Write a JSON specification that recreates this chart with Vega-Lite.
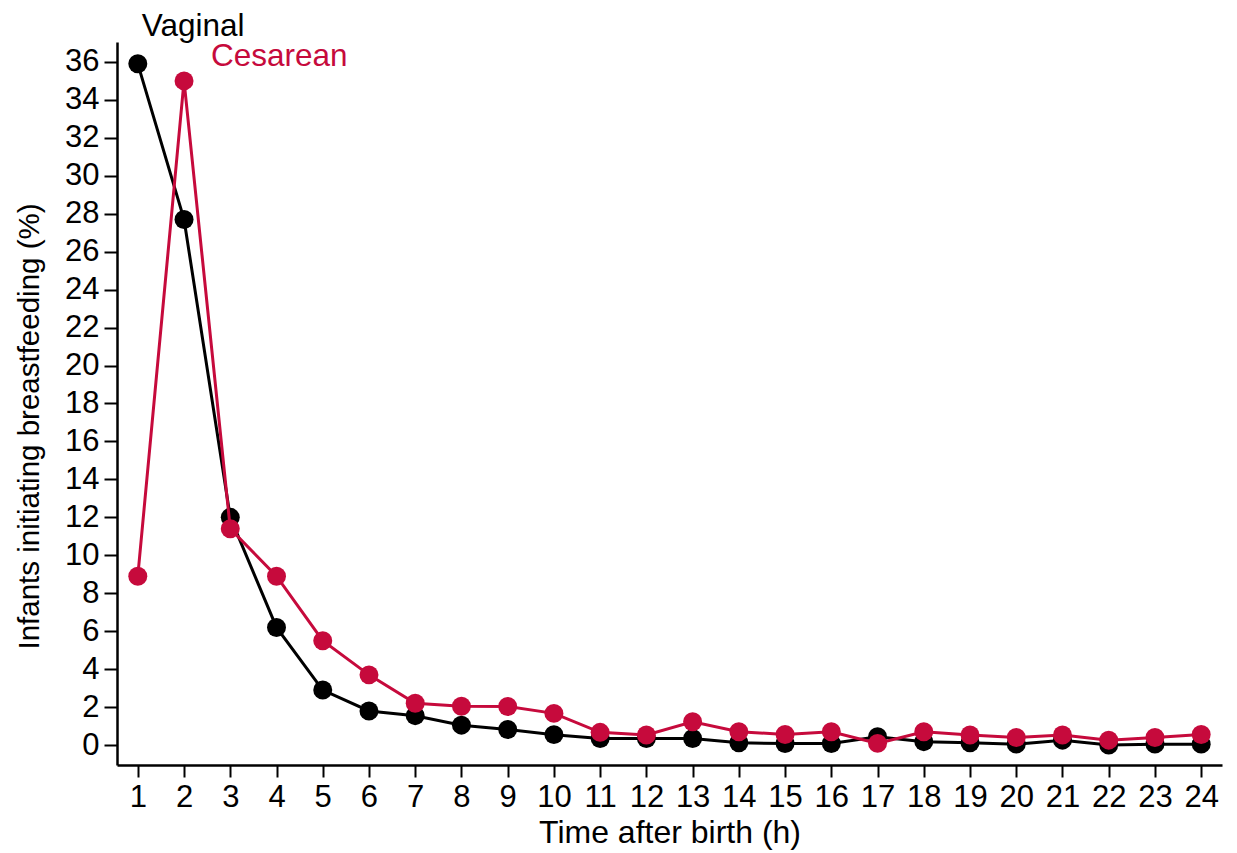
{
  "$schema": "https://vega.github.io/schema/vega-lite/v6.json",
  "width": 1105,
  "height": 723,
  "autosize": "none",
  "padding": {"left": 117, "top": 42, "right": 15, "bottom": 88},
  "background": "white",
  "config": {
    "view": {"stroke": null},
    "font": "Liberation Sans",
    "axis": {
      "grid": false,
      "domainColor": "black",
      "domainWidth": 2.5,
      "tickColor": "black",
      "tickWidth": 2,
      "labelColor": "black",
      "labelFont": "Liberation Sans",
      "labelFontSize": 31,
      "titleFont": "Liberation Sans",
      "titleFontWeight": "normal",
      "titleColor": "black",
      "labelPadding": 5
    }
  },
  "data": {
    "values": [
      {"series": "Vaginal", "hour": 1, "pct": 35.9},
      {"series": "Vaginal", "hour": 2, "pct": 27.7},
      {"series": "Vaginal", "hour": 3, "pct": 12.0},
      {"series": "Vaginal", "hour": 4, "pct": 6.2},
      {"series": "Vaginal", "hour": 5, "pct": 2.9},
      {"series": "Vaginal", "hour": 6, "pct": 1.8},
      {"series": "Vaginal", "hour": 7, "pct": 1.55},
      {"series": "Vaginal", "hour": 8, "pct": 1.05},
      {"series": "Vaginal", "hour": 9, "pct": 0.82},
      {"series": "Vaginal", "hour": 10, "pct": 0.55},
      {"series": "Vaginal", "hour": 11, "pct": 0.35},
      {"series": "Vaginal", "hour": 12, "pct": 0.35},
      {"series": "Vaginal", "hour": 13, "pct": 0.35},
      {"series": "Vaginal", "hour": 14, "pct": 0.12},
      {"series": "Vaginal", "hour": 15, "pct": 0.08},
      {"series": "Vaginal", "hour": 16, "pct": 0.08},
      {"series": "Vaginal", "hour": 17, "pct": 0.44},
      {"series": "Vaginal", "hour": 18, "pct": 0.18},
      {"series": "Vaginal", "hour": 19, "pct": 0.12},
      {"series": "Vaginal", "hour": 20, "pct": 0.05},
      {"series": "Vaginal", "hour": 21, "pct": 0.26},
      {"series": "Vaginal", "hour": 22, "pct": 0.0},
      {"series": "Vaginal", "hour": 23, "pct": 0.05},
      {"series": "Vaginal", "hour": 24, "pct": 0.05},
      {"series": "Cesarean", "hour": 1, "pct": 8.9},
      {"series": "Cesarean", "hour": 2, "pct": 35.0},
      {"series": "Cesarean", "hour": 3, "pct": 11.4},
      {"series": "Cesarean", "hour": 4, "pct": 8.9},
      {"series": "Cesarean", "hour": 5, "pct": 5.5},
      {"series": "Cesarean", "hour": 6, "pct": 3.7},
      {"series": "Cesarean", "hour": 7, "pct": 2.2},
      {"series": "Cesarean", "hour": 8, "pct": 2.05},
      {"series": "Cesarean", "hour": 9, "pct": 2.03},
      {"series": "Cesarean", "hour": 10, "pct": 1.67},
      {"series": "Cesarean", "hour": 11, "pct": 0.67},
      {"series": "Cesarean", "hour": 12, "pct": 0.53},
      {"series": "Cesarean", "hour": 13, "pct": 1.23},
      {"series": "Cesarean", "hour": 14, "pct": 0.7},
      {"series": "Cesarean", "hour": 15, "pct": 0.56},
      {"series": "Cesarean", "hour": 16, "pct": 0.7},
      {"series": "Cesarean", "hour": 17, "pct": 0.09},
      {"series": "Cesarean", "hour": 18, "pct": 0.7},
      {"series": "Cesarean", "hour": 19, "pct": 0.53},
      {"series": "Cesarean", "hour": 20, "pct": 0.4},
      {"series": "Cesarean", "hour": 21, "pct": 0.53},
      {"series": "Cesarean", "hour": 22, "pct": 0.26},
      {"series": "Cesarean", "hour": 23, "pct": 0.4},
      {"series": "Cesarean", "hour": 24, "pct": 0.56}
    ]
  },
  "encoding": {
    "x": {
      "field": "hour",
      "type": "quantitative",
      "scale": {"domain": [0.55, 24.45], "nice": false, "zero": false},
      "axis": {
        "title": "Time after birth (h)",
        "titleFontSize": 32,
        "tickSize": 12,
        "values": [1,2,3,4,5,6,7,8,9,10,11,12,13,14,15,16,17,18,19,20,21,22,23,24],
        "titlePadding": 5,
        "labelFlush": false,
        "labelOverlap": false
      }
    },
    "y": {
      "field": "pct",
      "type": "quantitative",
      "scale": {"domain": [-1.05, 37.05], "nice": false, "zero": false},
      "axis": {
        "title": "Infants initiating breastfeeding (%)",
        "titleFontSize": 29.5,
        "tickSize": 13,
        "values": [0,2,4,6,8,10,12,14,16,18,20,22,24,26,28,30,32,34,36],
        "titlePadding": 20,
        "titleY": 384,
        "labelFlush": false,
        "labelOverlap": false
      }
    },
    "color": {
      "field": "series",
      "type": "nominal",
      "scale": {"domain": ["Vaginal", "Cesarean"], "range": ["#000000", "#c60a3c"]},
      "legend": null
    }
  },
  "layer": [
    {
      "transform": [{"filter": "datum.series == 'Vaginal'"}],
      "mark": {"type": "line", "strokeWidth": 3, "point": {"filled": true, "size": 360, "opacity": 1}}
    },
    {
      "transform": [{"filter": "datum.series == 'Cesarean'"}],
      "mark": {"type": "line", "strokeWidth": 3, "point": {"filled": true, "size": 360, "opacity": 1}}
    },
    {
      "transform": [{"filter": "datum.series == 'Vaginal' && datum.hour == 1"}],
      "mark": {"type": "text", "align": "left", "baseline": "alphabetic", "dx": 4, "dy": -28, "fontSize": 31.5, "font": "Liberation Sans"},
      "encoding": {"text": {"field": "series"}}
    },
    {
      "transform": [{"filter": "datum.series == 'Cesarean' && datum.hour == 2"}],
      "mark": {"type": "text", "align": "left", "baseline": "alphabetic", "dx": 27, "dy": -15, "fontSize": 31.5, "font": "Liberation Sans"},
      "encoding": {"text": {"field": "series"}}
    }
  ]
}
